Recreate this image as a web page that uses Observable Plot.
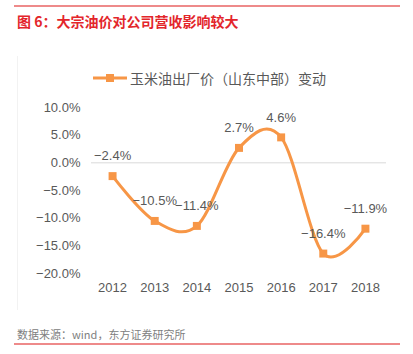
<!DOCTYPE html>
<html>
<head>
<meta charset="utf-8">
<script src="https://cdn.jsdelivr.net/npm/d3@7"></script>
<script src="https://cdn.jsdelivr.net/npm/@observablehq/plot@0.6"></script>
<style>
  html, body { margin: 0; padding: 0; background: #fff; }
  #page { position: relative; width: 413px; height: 354px; overflow: hidden; background: #fff; }
  .rule { position: absolute; left: 14px; width: 386px; height: 2px; background: #ee8a8a; }
  #title { position: absolute; left: 17px; top: 11px; font: bold 14px "Noto Sans CJK SC", sans-serif; color: #e3262b; white-space: nowrap; }
  #frame { position: absolute; left: 17px; top: 56px; width: 1px; height: 254px; background: #f2f2f2; }
  #legend { position: absolute; left: 93px; top: 68px; display: flex; align-items: center; white-space: nowrap; }
  #legend span { font: 14px "Noto Sans CJK SC", sans-serif; color: #595959; margin-left: 3px; }
  #chart { position: absolute; left: 0; top: 90px; }
  #caption { position: absolute; left: 17px; top: 326px; font: 11px "Noto Sans CJK SC", sans-serif; color: #808080; white-space: nowrap; }
</style>
</head>
<body>
<div id="page">
  <div class="rule" style="top:5px"></div>
  <div id="title">图 6：大宗油价对公司营收影响较大</div>
  <div id="frame"></div>
  <div id="legend"></div>
  <div id="chart"></div>
  <div id="caption">数据来源：wind，东方证券研究所</div>
  <div class="rule" style="top:343px"></div>
</div>
<script>
const years = [2012, 2013, 2014, 2015, 2016, 2017, 2018];
const changes = [-2.4, -10.5, -11.4, 2.7, 4.6, -16.4, -11.9];
const yTicks = [-20, -15, -10, -5, 0, 5, 10];
const seriesName = "玉米油出厂价（山东中部）变动";
const lineColor = "#f79646";

const data = years.map((year, i) => ({year, value: changes[i]}));
const pct = v => (v.toFixed(1) + "%").replace("-", "\u2212");

// legend
const legend = document.getElementById("legend");
legend.innerHTML = `<svg width="34" height="12"><line x1="0" y1="6" x2="34" y2="6" stroke="${lineColor}" stroke-width="3"/><rect x="13" y="2" width="8" height="8" fill="${lineColor}"/></svg><span>${seriesName}</span>`;

const chart = Plot.plot({
  width: 413,
  height: 213,
  marginLeft: 91,
  marginRight: 27,
  marginTop: 17,
  marginBottom: 30,
  style: {fontFamily: "'Liberation Sans', Arial, sans-serif", fontSize: "13px", color: "#595959", background: "transparent", overflow: "visible"},
  x: {domain: [2011.5, 2018.5], ticks: years, tickFormat: "d", tickSize: 0, tickPadding: 9, label: null},
  y: {domain: [-20, 10], ticks: yTicks, tickFormat: pct, tickSize: 0, tickPadding: 11, label: null},
  marks: [
    Plot.ruleY([0], {stroke: "#d9d9d9", strokeWidth: 1}),
    Plot.line(data, {x: "year", y: "value", stroke: lineColor, strokeWidth: 3, curve: "cardinal", tension: 0}),
    Plot.dot(data, {x: "year", y: "value", symbol: "square", r: 4.5, fill: lineColor, stroke: "none"}),
    Plot.text(data, {x: "year", y: "value", text: d => pct(d.value), dy: -20, fill: "#595959", fontSize: 13})
  ]
});
document.getElementById("chart").appendChild(chart);
</script>
</body>
</html>
